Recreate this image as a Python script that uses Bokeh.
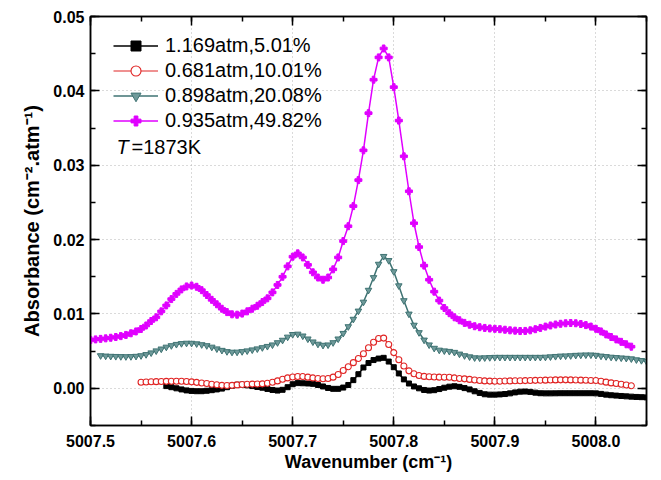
from bokeh.plotting import figure
from bokeh.models import (SingleIntervalTicker, LinearAxis, PrintfTickFormatter,
                          Legend, LegendItem, Label, Range1d)
from bokeh.embed import file_html
from bokeh.resources import INLINE

# ---------------- data ----------------
wavenumber = [
    5007.500, 5007.505, 5007.510, 5007.515, 5007.520, 5007.525, 5007.530, 5007.535, 5007.540, 5007.545,
    5007.550, 5007.555, 5007.560, 5007.565, 5007.570, 5007.575, 5007.580, 5007.585, 5007.590, 5007.595,
    5007.600, 5007.605, 5007.610, 5007.615, 5007.620, 5007.625, 5007.630, 5007.635, 5007.640, 5007.645,
    5007.650, 5007.655, 5007.660, 5007.665, 5007.670, 5007.675, 5007.680, 5007.685, 5007.690, 5007.695,
    5007.700, 5007.705, 5007.710, 5007.715, 5007.720, 5007.725, 5007.730, 5007.735, 5007.740, 5007.745,
    5007.750, 5007.755, 5007.760, 5007.765, 5007.770, 5007.775, 5007.780, 5007.785, 5007.790, 5007.795,
    5007.800, 5007.805, 5007.810, 5007.815, 5007.820, 5007.825, 5007.830, 5007.835, 5007.840, 5007.845,
    5007.850, 5007.855, 5007.860, 5007.865, 5007.870, 5007.875, 5007.880, 5007.885, 5007.890, 5007.895,
    5007.900, 5007.905, 5007.910, 5007.915, 5007.920, 5007.925, 5007.930, 5007.935, 5007.940, 5007.945,
    5007.950, 5007.955, 5007.960, 5007.965, 5007.970, 5007.975, 5007.980, 5007.985, 5007.990, 5007.995,
    5008.000, 5008.005, 5008.010, 5008.015, 5008.020, 5008.025, 5008.030, 5008.035, 5008.040, 5008.045,
    5008.050,
]

# 1.169 atm, 5.01 %  (from 5007.575 to 5008.050)
wn_1169 = wavenumber[15:]
abs_1169 = [
    0.00030, 0.00015, 0.00000, -0.00015, -0.00028, -0.00035, -0.00039, -0.00039, -0.00033, -0.00025,
    -0.00015, -0.00004, 0.00015, 0.00035, 0.00048, 0.00050, 0.00040, 0.00030, 0.00018, 0.00008,
    -0.00008, -0.00022, -0.00030, -0.00020, 0.00015, 0.00055, 0.00070, 0.00068, 0.00065, 0.00060,
    0.00045, 0.00025, 0.00005, -0.00007, -0.00007, 0.00010, 0.00045, 0.00110, 0.00190, 0.00280,
    0.00340, 0.00380, 0.00400, 0.00410, 0.00360, 0.00284, 0.00200, 0.00120, 0.00065, 0.00025,
    0.00000, -0.00022, -0.00030, -0.00025, -0.00010, 0.00008, 0.00022, 0.00028, 0.00020, 0.00003,
    -0.00015, -0.00040, -0.00062, -0.00080, -0.00085, -0.00085, -0.00082, -0.00077, -0.00068, -0.00055,
    -0.00045, -0.00043, -0.00048, -0.00058, -0.00066, -0.00068, -0.00068, -0.00067, -0.00066, -0.00066,
    -0.00066, -0.00066, -0.00066, -0.00066, -0.00066, -0.00068, -0.00075, -0.00085, -0.00093, -0.00098,
    -0.00103, -0.00108, -0.00112, -0.00116, -0.00119, -0.00122,
]

# 0.681 atm, 10.01 %  (from 5007.550 to 5008.035)
wn_0681 = wavenumber[10:108]
abs_0681 = [
    0.00082, 0.00085, 0.00088, 0.00090, 0.00092, 0.00094, 0.00096, 0.00096, 0.00095, 0.00092,
    0.00087, 0.00080, 0.00072, 0.00064, 0.00055, 0.00047, 0.00040, 0.00038, 0.00040, 0.00046,
    0.00052, 0.00055, 0.00057, 0.00058, 0.00060, 0.00068, 0.00082, 0.00100, 0.00122, 0.00140,
    0.00152, 0.00158, 0.00158, 0.00150, 0.00140, 0.00132, 0.00128, 0.00132, 0.00150, 0.00185,
    0.00240, 0.00290, 0.00345, 0.00400, 0.00465, 0.00545, 0.00620, 0.00670, 0.00675, 0.00590,
    0.00480, 0.00385, 0.00300, 0.00235, 0.00195, 0.00172, 0.00160, 0.00155, 0.00152, 0.00150,
    0.00149, 0.00148, 0.00140, 0.00133, 0.00127, 0.00120, 0.00112, 0.00105, 0.00100, 0.00097,
    0.00095, 0.00096, 0.00098, 0.00100, 0.00101, 0.00102, 0.00104, 0.00105, 0.00107, 0.00108,
    0.00110, 0.00112, 0.00113, 0.00114, 0.00114, 0.00113, 0.00111, 0.00110, 0.00108, 0.00106,
    0.00105, 0.00095, 0.00083, 0.00073, 0.00065, 0.00055, 0.00045, 0.00034,
]

# 0.898 atm, 20.08 %  (from 5007.510 to 5008.050)
wn_0898 = wavenumber[2:]
abs_0898 = [
    0.00440, 0.00435, 0.00432, 0.00430, 0.00428, 0.00427, 0.00428, 0.00432, 0.00440, 0.00455,
    0.00478, 0.00505, 0.00530, 0.00555, 0.00575, 0.00592, 0.00603, 0.00608, 0.00607, 0.00600,
    0.00588, 0.00575, 0.00555, 0.00532, 0.00512, 0.00495, 0.00487, 0.00488, 0.00495, 0.00505,
    0.00518, 0.00532, 0.00548, 0.00565, 0.00585, 0.00615, 0.00648, 0.00690, 0.00725, 0.00730,
    0.00705, 0.00665, 0.00625, 0.00595, 0.00580, 0.00585, 0.00615, 0.00665, 0.00740, 0.00830,
    0.00930, 0.01040, 0.01160, 0.01320, 0.01490, 0.01670, 0.01775, 0.01720, 0.01570, 0.01380,
    0.01180, 0.01000, 0.00850, 0.00750, 0.00650, 0.00585, 0.00540, 0.00515, 0.00505, 0.00498,
    0.00485, 0.00462, 0.00440, 0.00425, 0.00412, 0.00410, 0.00412, 0.00415, 0.00418, 0.00418,
    0.00418, 0.00418, 0.00418, 0.00418, 0.00418, 0.00418, 0.00418, 0.00418, 0.00420, 0.00425,
    0.00430, 0.00435, 0.00437, 0.00440, 0.00445, 0.00448, 0.00450, 0.00450, 0.00445, 0.00435,
    0.00428, 0.00420, 0.00415, 0.00410, 0.00405, 0.00398, 0.00385, 0.00375, 0.00364,
]

# 0.935 atm, 49.82 %  (from 5007.500 to 5008.035)
wn_0935 = wavenumber[0:108]
abs_0935 = [
    0.00650, 0.00658, 0.00665, 0.00672, 0.00680, 0.00690, 0.00702, 0.00718, 0.00740, 0.00765,
    0.00798, 0.00845, 0.00905, 0.00955, 0.01035, 0.01115, 0.01200, 0.01270, 0.01330, 0.01370,
    0.01382, 0.01365, 0.01320, 0.01255, 0.01190, 0.01130, 0.01070, 0.01025, 0.00995, 0.00990,
    0.01005, 0.01035, 0.01070, 0.01110, 0.01160, 0.01210, 0.01290, 0.01390, 0.01500, 0.01640,
    0.01770, 0.01815, 0.01760, 0.01660, 0.01560, 0.01490, 0.01460, 0.01490, 0.01600, 0.01760,
    0.01980, 0.02180, 0.02450, 0.02800, 0.03200, 0.03700, 0.04150, 0.04450, 0.04570, 0.04450,
    0.04050, 0.03600, 0.03120, 0.02650, 0.02220, 0.01900, 0.01650, 0.01460, 0.01300, 0.01180,
    0.01080, 0.01010, 0.00955, 0.00915, 0.00880, 0.00855, 0.00835, 0.00822, 0.00812, 0.00805,
    0.00800, 0.00795, 0.00788, 0.00780, 0.00775, 0.00770, 0.00772, 0.00780, 0.00795, 0.00812,
    0.00830, 0.00845, 0.00858, 0.00868, 0.00875, 0.00878, 0.00875, 0.00865, 0.00850, 0.00830,
    0.00800, 0.00765, 0.00725, 0.00690, 0.00658, 0.00625, 0.00592, 0.00560,
]

series_labels = ["1.169atm,5.01%", "0.681atm,10.01%", "0.898atm,20.08%", "0.935atm,49.82%"]
x_ticks_interval = 0.1
y_ticks_interval = 0.01

# ---------------- figure ----------------
FONT = "Liberation Sans"

p = figure(frame_width=556, frame_height=409,
           x_range=Range1d(5007.5, 5008.05), y_range=Range1d(-0.005, 0.05),
           output_backend="svg", toolbar_location=None,
           min_border_left=90, min_border_right=7, min_border_top=16, min_border_bottom=55)
p.background_fill_color = "white"
p.border_fill_color = "white"
p.outline_line_color = "black"
p.outline_line_width = 1.5

bottom_ax = p.below[0]
left_ax = p.left[0]

xt = SingleIntervalTicker(interval=x_ticks_interval, num_minor_ticks=2)
yt = SingleIntervalTicker(interval=y_ticks_interval, num_minor_ticks=2)

top_ax = LinearAxis(ticker=xt)
right_ax = LinearAxis(ticker=yt)
p.add_layout(top_ax, "above")
p.add_layout(right_ax, "right")

for ax in [bottom_ax, left_ax, top_ax, right_ax]:
    ax.major_tick_in = 9
    ax.major_tick_out = 0
    ax.minor_tick_in = 5
    ax.minor_tick_out = 0
    ax.axis_line_width = 1.5
    ax.major_tick_line_width = 1.5
    ax.minor_tick_line_width = 1.5
    ax.axis_line_color = "black"
    ax.major_tick_line_color = "black"
    ax.minor_tick_line_color = "black"
    ax.major_label_text_font = FONT
    ax.major_label_text_font_style = "bold"
    ax.major_label_text_font_size = "16px"
    ax.major_label_text_color = "black"

for ax in [top_ax, right_ax]:
    ax.major_label_text_font_size = "1px"
    ax.major_label_text_color = None
    ax.major_label_standoff = 0

bottom_ax.ticker = xt
left_ax.ticker = yt
bottom_ax.formatter = PrintfTickFormatter(format="%.1f")
left_ax.formatter = PrintfTickFormatter(format="%.2f")
bottom_ax.major_label_standoff = 9
left_ax.major_label_standoff = 6

bottom_ax.axis_label = "Wavenumber (cm\u207b\u00b9)"
left_ax.axis_label = "Absorbance (cm\u207b\u00b2.atm\u207b\u00b9)"
for ax in [bottom_ax, left_ax]:
    ax.axis_label_text_font = FONT
    ax.axis_label_text_font_style = "bold"
    ax.axis_label_text_color = "black"
bottom_ax.axis_label_text_font_size = "18px"
left_ax.axis_label_text_font_size = "20px"
bottom_ax.axis_label_standoff = 2
left_ax.axis_label_standoff = 7

p.xgrid.ticker = xt
p.ygrid.ticker = yt
for g in [p.xgrid, p.ygrid]:
    g.grid_line_color = "#b4b4b4"
    g.grid_line_dash = "1 3"
    g.grid_line_width = 1

# ---------------- series ----------------
col_black = "#000000"
col_red = "#e02424"
col_teal = "#3f7373"
col_mag = "#e000ff"

l1 = p.line(wn_1169, abs_1169, line_color=col_black, line_width=1.5)
s1 = p.scatter(wn_1169, abs_1169, marker="square", size=5, fill_color=col_black, line_color=col_black)

l2 = p.line(wn_0681, abs_0681, line_color=col_red, line_width=1.2)
s2 = p.scatter(wn_0681, abs_0681, marker="circle", size=6, fill_color="white", line_color=col_red, line_width=1.1)

l3 = p.line(wn_0898, abs_0898, line_color=col_teal, line_width=1.5)
s3 = p.scatter(wn_0898, abs_0898, marker="inverted_triangle", size=6.5, fill_color="#6f9a9a", line_color=col_teal, line_width=1)

l4 = p.line(wn_0935, abs_0935, line_color=col_mag, line_width=1.5)
s4 = p.scatter(wn_0935, abs_0935, marker="plus", size=7, fill_color=col_mag, line_color=col_mag)

lg = [[l1, s1], [l2, s2], [l3, s3], [l4, s4]]
legend = Legend(items=[LegendItem(label=series_labels[i], renderers=lg[i]) for i in range(4)],
                location=(23, 292))
legend.border_line_color = None
legend.background_fill_alpha = 0
legend.padding = 0
legend.margin = 0
legend.spacing = 0
legend.glyph_width = 45
legend.glyph_height = 25
legend.label_height = 25
legend.label_standoff = 7
legend.label_text_font = FONT
legend.label_text_font_size = "20px"
legend.label_text_color = "black"
p.add_layout(legend)

p.add_layout(Label(x=5007.5257, y=0.0325, text="T", text_font=FONT, text_font_style="italic",
                   text_font_size="20px", text_baseline="middle", text_color="black"))
p.add_layout(Label(x=5007.5406, y=0.0325, text="=1873K", text_font=FONT,
                   text_font_size="20px", text_baseline="middle", text_color="black"))

open("out.html", "w").write(file_html(p, INLINE))
